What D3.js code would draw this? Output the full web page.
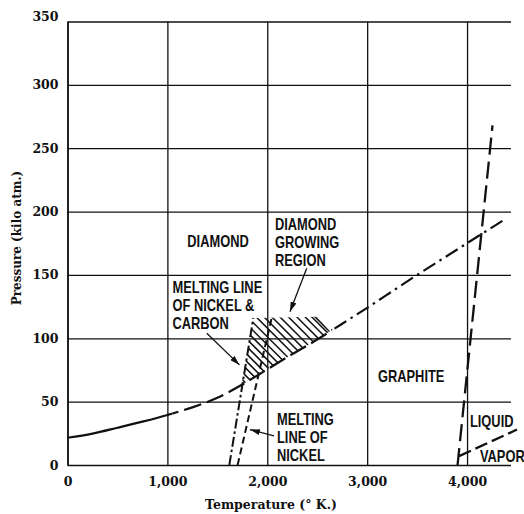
<!DOCTYPE html>
<html><head><meta charset="utf-8">
<script src="https://cdn.jsdelivr.net/npm/d3@7"></script>
<style>body{margin:0;background:#fff}</style>
</head><body><svg id="c" width="524" height="514"></svg>
<script>
// ---- data ----
const xTicks = [0, 1000, 2000, 3000, 4000];
const xTickLabels = ["0", "1,000", "2,000", "3,000", "4,000"];
const yTicks = [0, 50, 100, 150, 200, 250, 300, 350];

// graphite–diamond equilibrium line
const eqT = [0, 250, 500, 750, 1000, 1250, 1500, 1750, 2000, 2250, 2500, 2750, 3000, 3250, 3500, 3750, 4000, 4200, 4380];
const eqP = [21.5, 24.8, 29.4, 34.2, 39.5, 45.5, 53, 63.5, 75.5, 87.5, 99, 111.5, 124, 137, 150, 162.5, 175, 185, 194];

// melting line of nickel & carbon
const niCT = [1620, 1860];
const niCP = [0, 116];
// melting line of nickel
const niT = [1703, 2044];
const niP = [0, 116];
// graphite / liquid
const liqT = [3905, 4255];
const liqP = [0, 268];
// liquid / vapor
const vapT = [3920, 4500];
const vapP = [7, 28];

// diamond growing region (hatched)
const regionT = [1743, 1860, 2500, 2628, 2500, 2250, 2000, 1750];
const regionP = [64, 116, 117, 105.5, 99, 87.5, 75.5, 63.5];
const hatchTops = [1120, 1195, 1270, 1345, 1420, 1495, 1570, 1645, 1720, 1800, 1887, 1965, 2044, 2125, 2210, 2294, 2377, 2444, 2477, 2510, 2554];
const hatchTopP = 117;

// annotations
const labelText = [
  ["DIAMOND"],
  ["DIAMOND", "GROWING", "REGION"],
  ["MELTING LINE", "OF NICKEL &", "CARBON"],
  ["GRAPHITE"],
  ["MELTING", "LINE OF", "NICKEL"],
  ["LIQUID"],
  ["VAPOR"]
];
const labelT = [1507, 2077, 1051, 3108, 2097, 4029, 4129];
const labelP = [172, 185.5, 135.5, 65.7, 31.6, 30.2, 2.6];
const labelAnchor = ["middle", "start", "start", "start", "start", "start", "start"];

const arrowFromT = [2395, 1394, 2067];
const arrowFromP = [155.2, 104, 22.9];
const arrowToT = [2227, 1722, 1827];
const arrowToP = [121, 79, 28];

// ---- drawing ----
const svg = d3.select("#c");
const x = d3.scaleLinear().domain([0, 4440]).range([67.5, 511]);
const y = d3.scaleLinear().domain([0, 350]).range([465, 21.5]);

const ink = "#111";
svg.append("defs").append("marker")
  .attr("id", "ah").attr("viewBox", "0 0 10 6").attr("refX", 10).attr("refY", 3)
  .attr("markerWidth", 10).attr("markerHeight", 6).attr("markerUnits", "userSpaceOnUse")
  .attr("orient", "auto")
  .append("path").attr("d", "M0,0 L10,3 L0,6 Z").attr("fill", ink);

// y axis with gridlines
const gy = svg.append("g").attr("transform", `translate(${x(0)},0)`)
  .call(d3.axisLeft(y).tickValues(yTicks).tickSize(-(x(4440) - x(0))).tickSizeOuter(0).tickPadding(9));
gy.select(".domain").attr("stroke", ink).attr("stroke-width", 1.6);
gy.selectAll(".tick line").attr("stroke", ink).attr("stroke-width", 1.3);
gy.selectAll(".tick text").attr("font-family", "DejaVu Serif").attr("font-weight", "bold")
  .attr("font-size", 12.5).attr("fill", ink)
  .attr("dy", d => d === 350 ? "-0.1em" : "0.32em");

// x axis with gridlines
const gx = svg.append("g").attr("transform", `translate(0,${y(0)})`)
  .call(d3.axisBottom(x).tickValues(xTicks).tickFormat((d, i) => xTickLabels[i])
    .tickSize(-(y(0) - y(350))).tickSizeOuter(0).tickPadding(12));
gx.select(".domain").remove();
gx.selectAll(".tick line").attr("stroke", ink).attr("stroke-width", 1.3);
gx.selectAll(".tick text").attr("font-family", "DejaVu Serif").attr("font-weight", "bold")
  .attr("font-size", 12.5).attr("fill", ink);

// axis titles
svg.append("text").attr("x", 271).attr("y", 509).attr("text-anchor", "middle")
  .attr("font-family", "DejaVu Serif").attr("font-weight", "bold").attr("font-size", 12.5)
  .attr("fill", ink).text("Temperature (° K.)");
svg.append("text").attr("transform", "translate(21,238) rotate(-90)").attr("text-anchor", "middle")
  .attr("font-family", "DejaVu Serif").attr("font-weight", "bold").attr("font-size", 12)
  .attr("fill", ink).text("Pressure (kilo atm.)");

// hatched region
const regionPts = regionT.map((t, i) => [x(t), y(regionP[i])]);
svg.select("defs").append("clipPath").attr("id", "hclip")
  .append("path").attr("d", "M" + regionPts.join("L") + "Z");
const gh = svg.append("g").attr("clip-path", "url(#hclip)");
gh.selectAll("line").data(hatchTops).join("line")
  .attr("x1", d => x(d) - 90).attr("y1", y(hatchTopP) - 90)
  .attr("x2", d => x(d) + 90).attr("y2", y(hatchTopP) + 90)
  .attr("stroke", ink).attr("stroke-width", 1.5);

// equilibrium line in three styles
const eqPts = eqT.map((t, i) => [t, eqP[i]]);
const line = d3.line().x(d => x(d[0])).y(d => y(d[1])).curve(d3.curveMonotoneX);
const segs = [[0, 1050, null], [1050, 2650, "18,6"], [2650, 4500, "14,5,2.5,5"]];
segs.forEach((s, i) => {
  svg.select("defs").append("clipPath").attr("id", "eq" + i).append("rect")
    .attr("x", x(s[0])).attr("y", 0).attr("width", x(s[1]) - x(s[0])).attr("height", 514);
  svg.append("path").datum(eqPts).attr("d", line).attr("fill", "none")
    .attr("stroke", ink).attr("stroke-width", 2.2)
    .attr("stroke-dasharray", s[2]).attr("clip-path", `url(#eq${i})`);
});

// straight phase lines
function seg(T, P, dash, w) {
  svg.append("path").datum(T.map((t, i) => [t, P[i]]))
    .attr("d", d3.line().x(d => x(d[0])).y(d => y(d[1])))
    .attr("fill", "none").attr("stroke", ink).attr("stroke-width", w).attr("stroke-dasharray", dash);
}
seg(niCT, niCP, "10,3,2.5,3", 2);
seg(niT, niP, "7,4", 2);
seg(liqT, liqP, "17,7", 2.3);
seg(vapT, vapP, "13,5", 2.3);

// labels (condensed bold sans via horizontal scale)
labelText.forEach((lines, i) => {
  const t = svg.append("text")
    .attr("transform", `translate(${x(labelT[i])},${y(labelP[i])}) scale(0.78,1)`)
    .attr("font-family", "'Liberation Sans', Arial, sans-serif").attr("font-weight", "bold")
    .attr("font-size", 16.5).attr("fill", ink).attr("text-anchor", labelAnchor[i]);
  lines.forEach((s, k) => {
    t.append("tspan").attr("x", 0).attr("y", k * 18).text(s);
  });
});

// arrows
arrowFromT.forEach((t, i) => {
  svg.append("line").attr("x1", x(t)).attr("y1", y(arrowFromP[i]))
    .attr("x2", x(arrowToT[i])).attr("y2", y(arrowToP[i]))
    .attr("stroke", ink).attr("stroke-width", 1.3).attr("marker-end", "url(#ah)");
});
</script></body></html>
